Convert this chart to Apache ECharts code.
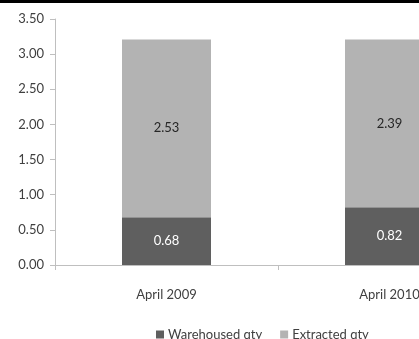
<!DOCTYPE html>
<html>
<head>
<meta charset="utf-8">
<script src="https://cdn.jsdelivr.net/npm/echarts@6/dist/echarts.min.js"></script>
<style>
  html, body { margin: 0; padding: 0; background: #ffffff; }
  #chart { width: 419px; height: 339px; }
</style>
</head>
<body>
<div id="chart"></div>
<script>
// Stacked quantities per period
var categories = ['April 2009', 'April 2010'];
var warehousedQty = [0.68, 0.82];
var extractedQty = [2.53, 2.39];
var yTicks = { min: 0, max: 3.5, interval: 0.5 };

var FONT = 'Lato';
var chart = echarts.init(document.getElementById('chart'), null, { renderer: 'canvas' });

chart.setOption({
  backgroundColor: '#ffffff',
  animation: false,
  textStyle: { fontFamily: FONT },
  graphic: [{
    type: 'rect',
    shape: { x: 0, y: 0, width: 419, height: 3 },
    style: { fill: '#000000' },
    z: 100
  }],
  // plot area runs past the right edge, so the second column is clipped
  grid: { left: 55, top: 19, width: 446, height: 246, outerBoundsMode: 'none', containLabel: false },
  legend: {
    left: 151,
    top: 323,
    itemWidth: 8,
    itemHeight: 8,
    itemGap: 18,
    icon: 'rect',
    textStyle: { fontFamily: FONT, fontSize: 13, color: '#404040', padding: [0, 0, 0, -1] },
    data: ['Warehoused qty', 'Extracted qty']
  },
  xAxis: {
    type: 'category',
    data: categories,
    axisLine: { lineStyle: { color: '#bfbfbf', width: 1 } },
    axisTick: { show: true, length: 5, lineStyle: { color: '#bfbfbf' } },
    axisLabel: { margin: 23, fontFamily: FONT, fontSize: 13, color: '#404040' }
  },
  yAxis: {
    type: 'value',
    min: yTicks.min,
    max: yTicks.max,
    interval: yTicks.interval,
    axisLine: { show: true, lineStyle: { color: '#bfbfbf', width: 1 } },
    axisTick: { show: true, length: 5, lineStyle: { color: '#bfbfbf' } },
    splitLine: { show: false },
    axisLabel: {
      margin: 11,
      fontFamily: FONT,
      fontSize: 13,
      color: '#404040',
      formatter: function (v) { return v.toFixed(2); }
    }
  },
  series: [
    {
      name: 'Warehoused qty',
      type: 'bar',
      stack: 'qty',
      barWidth: 89,
      data: warehousedQty,
      itemStyle: { color: '#5f5f5f' },
      label: {
        show: true, position: 'inside', fontFamily: FONT, fontSize: 13, color: '#ffffff',
        formatter: function (p) { return p.value.toFixed(2); }
      }
    },
    {
      name: 'Extracted qty',
      type: 'bar',
      stack: 'qty',
      barWidth: 89,
      data: extractedQty,
      itemStyle: { color: '#b3b3b3' },
      label: {
        show: true, position: 'inside', fontFamily: FONT, fontSize: 13, color: '#262626',
        formatter: function (p) { return p.value.toFixed(2); }
      }
    }
  ]
});
</script>
</body>
</html>
